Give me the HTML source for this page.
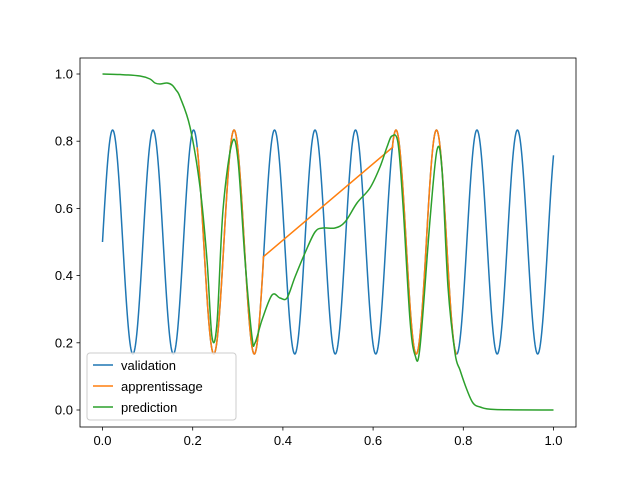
<!DOCTYPE html>
<html><head><meta charset="utf-8"><style>body{margin:0;background:#fff}svg{display:block}text{font-family:"Liberation Sans","DejaVu Sans",sans-serif;font-size:13px;fill:#000}</style></head>
<body>
<svg id="s" width="640" height="480" xmlns="http://www.w3.org/2000/svg">
<rect x="80" y="58" width="496" height="369" fill="#fff" stroke="none"/>
<g id="ser" fill="none" stroke-width="1.5" stroke-linejoin="round"></g>
<rect x="80" y="58" width="496" height="369" fill="none" stroke="#000" stroke-width="0.8"/>
<g id="ticks" stroke="#000" stroke-width="0.8"></g>
<g id="lab"></g>
<g>
<rect x="87" y="353" width="149" height="67" rx="3" fill="#fff" fill-opacity="0.8" stroke="#ccc"/>
<line x1="93" y1="365" x2="113" y2="365" stroke="#1f77b4" stroke-width="1.5"/>
<text x="121" y="370">validation</text>
<line x1="93" y1="386" x2="113" y2="386" stroke="#ff7f0e" stroke-width="1.5"/>
<text x="121" y="391">apprentissage</text>
<line x1="93" y1="407" x2="113" y2="407" stroke="#2ca02c" stroke-width="1.5"/>
<text x="121" y="412">prediction</text>
</g>
</svg>
<script>
var NS="http://www.w3.org/2000/svg";
function X(t){return 102.5+451*t}function Y(v){return 410-336*v}
function f(t){return 0.5+Math.sin(70*t)/3}
function addp(d,c){var p=document.createElementNS(NS,"path");p.setAttribute("d",d);p.setAttribute("stroke",c);document.getElementById("ser").appendChild(p);}
function path(pts,c){addp("M"+pts.map(a=>a[0].toFixed(2)+","+a[1].toFixed(2)).join("L"),c);}
function smooth(p,c){var d="M"+p[0][0]+","+p[0][1];for(var i=0;i<p.length-1;i++){var p0=p[i-1]||p[i],p1=p[i],p2=p[i+1],p3=p[i+2]||p2;
var c1=[p1[0]+(p2[0]-p0[0])/6,p1[1]+(p2[1]-p0[1])/6],c2=[p2[0]-(p3[0]-p1[0])/6,p2[1]-(p3[1]-p1[1])/6];
d+="C"+c1[0].toFixed(2)+","+c1[1].toFixed(2)+" "+c2[0].toFixed(2)+","+c2[1].toFixed(2)+" "+p2[0]+","+p2[1];}addp(d,c);}
var b=[];for(var i=0;i<=1000;i++){var t=i/1000;b.push([X(t),Y(f(t))]);}path(b,"#1f77b4");
var o=[];for(var t=0.21;t<=0.3566;t+=0.001)o.push([X(t),Y(f(t))]);
o.push([X(0.3566),Y(0.456)]);o.push([X(0.6434),Y(0.782)]);
for(var t=0.6434;t<=0.786;t+=0.001)o.push([X(t),Y(f(t))]);path(o,"#ff7f0e");
var g=[[102.5,74],[120,74.5],[140,76],[150,79],[155,83],[160,84],[167,83],[172,85],[176,90],[180,97],[190,127],[200,187],[207,260],[212,337],[217,323],[223,210],[232,143],[238,160],[245,260],[252,337],[255,343],[262,320],[272,295],[280,298],[287,298],[295,277],[305,253],[315,232],[323,228],[335,228],[345,222],[357,203],[370,188],[380,167],[387,147],[392,136],[398,143],[403,205],[410,320],[415,355],[420,347],[430,220],[437,150],[442,170],[448,287],[455,353],[460,370],[467,390],[473,403],[480,407],[495,409.5],[553.5,410]];
smooth(g,"#2ca02c");
var tk=document.getElementById("ticks"),lb=document.getElementById("lab");
function ln(a,b2,c,d){var l=document.createElementNS(NS,"line");l.setAttribute("x1",a);l.setAttribute("y1",b2);l.setAttribute("x2",c);l.setAttribute("y2",d);tk.appendChild(l);}
function tx(x,y,s,a){var e=document.createElementNS(NS,"text");e.setAttribute("x",x);e.setAttribute("y",y);e.setAttribute("text-anchor",a);e.textContent=s;lb.appendChild(e);}
for(var i=0;i<=5;i++){var v=i*0.2,x=X(v),y=Y(v);ln(x,427,x,430.5);tx(x,445,v.toFixed(1),"middle");ln(80,y,76.5,y);tx(73,y+4.5,v.toFixed(1),"end");}
</script>
</body></html>
